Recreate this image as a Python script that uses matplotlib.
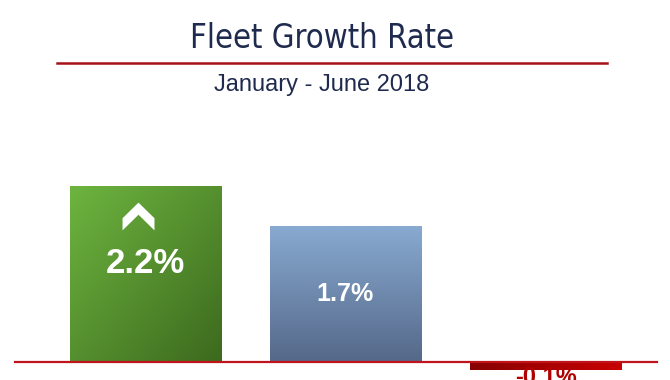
import numpy as np
import matplotlib
matplotlib.use('Agg')
import matplotlib.pyplot as plt
from matplotlib.path import Path
from matplotlib.lines import Line2D
from matplotlib.colors import LinearSegmentedColormap

categories = ['Jan-Jun 2018 A', 'Jan-Jun 2018 B', 'Jan-Jun 2018 C']
growth = [2.2, 1.7, -0.1]
labels = ['2.2%', '1.7%', '-0.1%']
title = 'Fleet Growth Rate'
subtitle = 'January - June 2018'

NAVY = '#1f2b4e'


def gradient_fill(ax, bar, cmap, direction):
    x0, y0 = bar.get_x(), bar.get_y()
    x1, y1 = x0 + bar.get_width(), y0 + bar.get_height()
    xx, yy = np.meshgrid(np.linspace(0, 1, 64), np.linspace(0, 1, 64))
    if direction == 'diag':
        z = (xx + yy) / 2
    elif direction == 'vert':
        z = yy
    else:
        z = xx
    im = ax.imshow(z, cmap=cmap, extent=(x0, x1, min(y0, y1), max(y0, y1)),
                   origin='upper', aspect='auto', zorder=2, interpolation='bilinear')
    im.set_clip_path(bar)


def main():
    fig = plt.figure(figsize=(6.7, 3.8), dpi=100)
    ax = fig.add_axes([0, 0, 1, 1])
    x = np.arange(len(growth))
    bars = ax.bar(x, growth, width=0.76, color='none', edgecolor='none', zorder=2)

    green = LinearSegmentedColormap.from_list('g', ['#6db43f', '#3d6a1e'])
    blue = LinearSegmentedColormap.from_list('b', ['#88a9d0', '#55698a'])
    red = LinearSegmentedColormap.from_list('r', ['#870000', '#c80000'])
    gradient_fill(ax, bars[0], green, 'diag')
    gradient_fill(ax, bars[1], blue, 'vert')
    gradient_fill(ax, bars[2], red, 'horiz')

    # baseline
    ax.axhline(0, xmin=15 / 670, xmax=657 / 670, color='#c0141c', lw=1.6, zorder=3)

    # chevron on the leading bar
    chevron = Path([(0, 0.87), (-1, -0.11), (-1, -0.87), (0, 0.11),
                    (1, -0.87), (1, -0.11), (0, 0.87)],
                   [Path.MOVETO] + [Path.LINETO] * 5 + [Path.CLOSEPOLY])
    ax.plot(x[0] - 0.0375, growth[0] * 0.83, marker=chevron, ms=23,
            color='white', mec='none', zorder=4)

    ax.text(x[0], growth[0] * 0.56, labels[0], ha='center', va='center',
            color='white', fontsize=25, fontweight='bold', family='Liberation Sans', zorder=4)
    ax.text(x[1], growth[1] * 0.5, labels[1], ha='center', va='center',
            color='white', fontsize=18, fontweight='bold', family='Liberation Sans', zorder=4)
    ax.text(x[2], growth[2] * 2.0, labels[2], ha='center', va='center',
            color='#b00000', fontsize=17, fontweight='bold', family='Liberation Sans', zorder=4)

    ax.set_xlim(-0.7275, 2.6225)
    ax.set_ylim(-18 / 80, 362 / 80)
    ax.axis('off')

    fig.text(0.48, 1 - 39 / 380, title, ha='center', va='center', color=NAVY,
             fontsize=23.5, family='DejaVu Sans', fontstretch='condensed')
    fig.add_artist(Line2D([57 / 670, 607 / 670], [1 - 63 / 380, 1 - 63 / 380],
                          color='#a5121a', lw=1.8))
    fig.text(0.48, 1 - 85 / 380, subtitle, ha='center', va='center', color=NAVY,
             fontsize=17, family='Liberation Sans')

    fig.savefig('out.png', dpi=100)


if __name__ == "__main__":
    main()
